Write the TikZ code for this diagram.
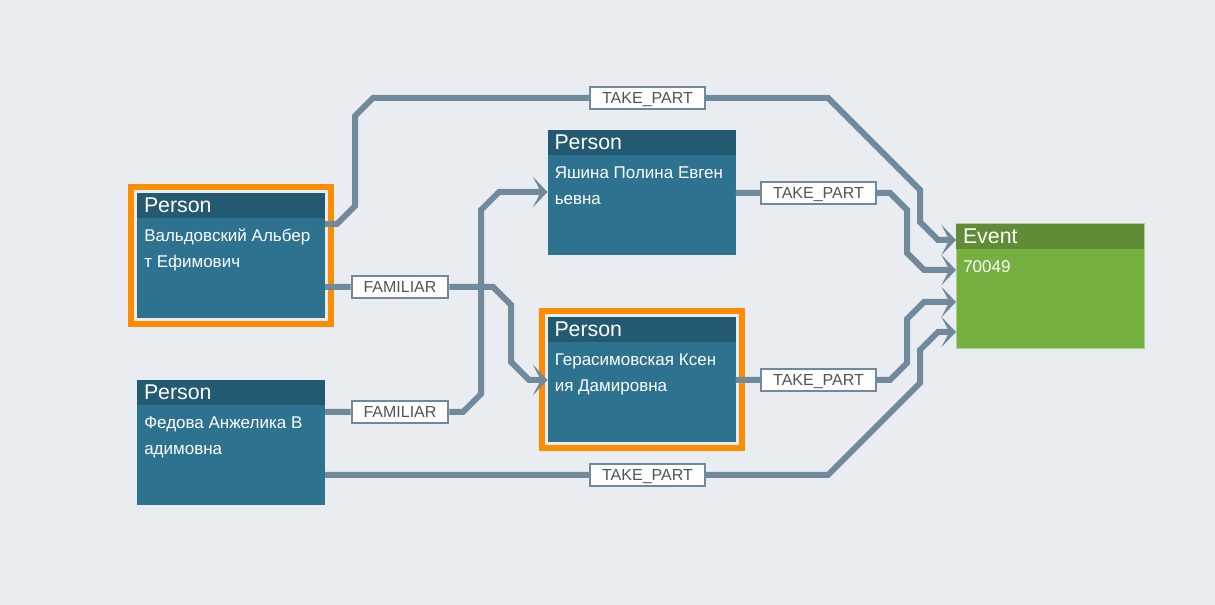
\documentclass[tikz,border=0pt]{standalone}
\usepackage{fontspec}
\setmainfont{Liberation Sans}
\usetikzlibrary{arrows.meta,fit,calc}

\definecolor{canvas}{RGB}{233,237,241}
\definecolor{personbody}{RGB}{45,114,143}
\definecolor{personhead}{RGB}{36,89,114}
\definecolor{eventbody}{RGB}{118,176,65}
\definecolor{eventhead}{RGB}{95,140,52}
\definecolor{linkgrey}{RGB}{112,138,156}
\definecolor{labeltext}{RGB}{77,85,92}
\definecolor{focusorange}{RGB}{255,140,0}

\begin{document}
\begin{tikzpicture}[x=0.75pt, y=-0.75pt, >={Stealth[length=11pt,width=23pt,inset=6pt]},
  box/.style={rectangle, minimum width=141pt, minimum height=93.75pt, inner sep=0pt, outer sep=0pt},
  person/.style={box, fill=personbody},
  event/.style={box, fill=eventbody, draw=eventbody!60!white, line width=0.75pt},
  head/.style={anchor=north west, rectangle, minimum height=18.75pt, text width=130.5pt,
    inner xsep=5.25pt, inner ysep=0pt, outer sep=0pt, text=white, align=left,
    font=\fontsize{16pt}{18pt}\selectfont},
  bodytext/.style={anchor=base west, inner sep=0pt, text=white, align=left,
    font=\fontsize{12.75pt}{19.5pt}\selectfont},
  tag/.style={rectangle, fill=white, draw=linkgrey, line width=1.5pt, text=labeltext,
    inner xsep=9pt, inner ysep=0pt, minimum height=16.5pt, text height=8.6pt, text depth=0pt,
    font=\fontsize{12pt}{13pt}\selectfont},
  focus/.style={rectangle, draw=focusorange, line width=4.5pt, inner sep=4.5pt},
  edge/.style={draw=linkgrey, line width=4.5pt}]

\useasboundingbox[fill=canvas] (0,0) rectangle (1215,605);

% persons and the event
\node[person] (valdo) at (231,255.5) {};
\node[head, fill=personhead] (valdohead) at (valdo.north west) {Person};
\node[bodytext] (valdoname) at ($(valdo.north west)+(7,75)$) {Вальдовский Альбер\\т Ефимович};

\node[person] (yashina) at (641.5,192.5) {};
\node[head, fill=personhead] (yashinahead) at (yashina.north west) {Person};
\node[bodytext] (yashinaname) at ($(yashina.north west)+(7,75)$) {Яшина Полина Евген\\ьевна};

\node[person] (geras) at (641.5,379.5) {};
\node[head, fill=personhead] (gerashead) at (geras.north west) {Person};
\node[bodytext] (gerasname) at ($(geras.north west)+(7,75)$) {Герасимовская Ксен\\ия Дамировна};

\node[person] (fedova) at (231,442.5) {};
\node[head, fill=personhead] (fedovahead) at (fedova.north west) {Person};
\node[bodytext] (fedovaname) at ($(fedova.north west)+(7,75)$) {Федова Анжелика В\\адимовна};

\node[event] (event) at (1050,286.5) {};
\node[head, fill=eventhead] (eventhead) at (event.north west) {Event};
\node[bodytext] (eventname) at ($(event.north west)+(7,48.5)$) {70049};

% selected
\node[focus, fit=(valdo)] (valdofocus) {};
\node[focus, fit=(geras)] (gerasfocus) {};

% relation labels
\node[tag] (tpvaldo) at (647.5,98) {TAKE\_PART};
\node[tag] (tpyashina) at (818.5,193) {TAKE\_PART};
\node[tag] (tpgeras) at (818.5,380) {TAKE\_PART};
\node[tag] (tpfedova) at (647.5,475) {TAKE\_PART};
\node[tag] (famvaldo) at (400,287) {FAMILIAR};
\node[tag] (famfedova) at (400,412) {FAMILIAR};

% relations
\draw[edge,->] (valdo.east |- 0,224) -- (337,224) -- (355,206) -- (355,116) -- (373,98)
  -- (tpvaldo) -- (828,98) -- (920,190) -- (920,222) -- (938,240) -- (event.west |- 0,240);
\draw[edge,->] (yashina.east |- 0,193) -- (tpyashina) -- (890,193) -- (907,210)
  -- (907,253) -- (924,270) -- (event.west |- 0,270);
\draw[edge,->] (geras.east |- 0,380) -- (tpgeras) -- (890,380) -- (907,363)
  -- (907,319) -- (924,302) -- (event.west |- 0,302);
\draw[edge,->] (fedova.east |- 0,475) -- (tpfedova) -- (828,475) -- (920,383)
  -- (920,350) -- (938,332) -- (event.west |- 0,332);
\draw[edge,->] (valdo.east |- 0,287) -- (famvaldo) -- (493,287) -- (511,305)
  -- (511,362) -- (529,380) -- (geras.west |- 0,380);
\draw[edge,->] (fedova.east |- 0,412) -- (famfedova) -- (463,412) -- (481,394)
  -- (481,210) -- (499,192) -- (yashina.west |- 0,192);
\end{tikzpicture}
\end{document}
